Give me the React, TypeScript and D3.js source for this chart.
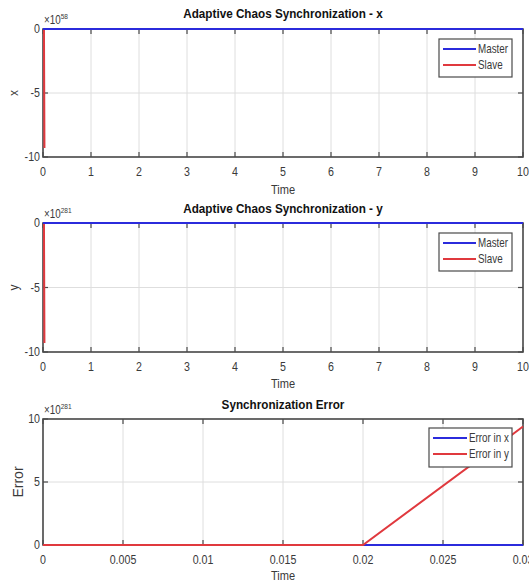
import * as d3 from "d3";

// panel 1 & 2: state trajectories (values in units of the axis exponent)
const masterTime = [0, 10];
const masterX = [0, 0];
const masterY = [0, 0];
const slaveTime = [0, 0.02, 0.03];
const slaveX = [0, 0, -9.3];
const slaveY = [0, 0, -9.3];

// panel 3: error
const errTime = [0, 0.02, 0.03];
const errX = [0, 0, 0];
const errY = [0, 0, 9.4];

const stateTicksX = [0, 1, 2, 3, 4, 5, 6, 7, 8, 9, 10];
const stateTicksY = [-10, -5, 0];
const errTicksX = [0, 0.005, 0.01, 0.015, 0.02, 0.025, 0.03];
const errTicksY = [0, 5, 10];

const FONT = "'Liberation Sans', Arial, sans-serif";
const BLUE = "#2b2bdc";
const RED = "#e0393e";
const AXIS = "#4a4a4a";
const GRID = "#dedede";
const TXT = "#3a3a3a";
const NARROW = 0.82;

type Series = { name: string; t: number[]; v: number[]; color: string };

// condensed text, like the narrow Helvetica in the original
function NText(props: { x: number; y: number; size: number; anchor?: string; children: any; fill?: string }) {
  return (
    <text
      transform={`translate(${props.x},${props.y}) scale(${NARROW},1)`}
      textAnchor={props.anchor || "start"}
      fontSize={props.size}
      fill={props.fill || TXT}
    >
      {props.children}
    </text>
  );
}

function Panel(props: {
  top: number;
  bottom: number;
  title: string;
  titleY: number;
  xDomain: [number, number];
  yDomain: [number, number];
  xTicks: number[];
  yTicks: number[];
  exponent: string;
  ylabel: string;
  ylabelSize: number;
  ylabelX: number;
  timeY: number;
  series: Series[];
  drawOrder: number[];
  legend: { x: number; y: number; w: number; h: number; lineLen: number };
}) {
  const left = 43;
  const right = 523;
  const x = d3.scaleLinear().domain(props.xDomain).range([left, right]);
  const y = d3.scaleLinear().domain(props.yDomain).range([props.bottom, props.top]);
  const line = (s: Series) =>
    d3
      .line<number>()
      .x((_, i) => x(s.t[i]))
      .y((d) => y(d))(s.v) || "";
  const fmt = (d: number) => String(d);
  const lg = props.legend;
  return (
    <g fontFamily={FONT}>
      {props.xTicks.map((t) => (
        <line key={"gx" + t} x1={x(t)} x2={x(t)} y1={props.top} y2={props.bottom} stroke={GRID} />
      ))}
      {props.yTicks.map((t) => (
        <line key={"gy" + t} x1={left} x2={right} y1={y(t)} y2={y(t)} stroke={GRID} />
      ))}
      <rect x={left} y={props.top} width={right - left} height={props.bottom - props.top} fill="none" stroke={AXIS} strokeWidth={1.6} />
      {props.xTicks.map((t) => (
        <g key={"tx" + t}>
          <line x1={x(t)} x2={x(t)} y1={props.bottom} y2={props.bottom - 5} stroke={AXIS} strokeWidth={1.2} />
          <line x1={x(t)} x2={x(t)} y1={props.top} y2={props.top + 5} stroke={AXIS} strokeWidth={1.2} />
          <NText x={x(t)} y={props.bottom + 19} size={13} anchor="middle">
            {fmt(t)}
          </NText>
        </g>
      ))}
      {props.yTicks.map((t) => (
        <g key={"ty" + t}>
          <line x1={left} x2={left + 5} y1={y(t)} y2={y(t)} stroke={AXIS} strokeWidth={1.2} />
          <line x1={right} x2={right - 5} y1={y(t)} y2={y(t)} stroke={AXIS} strokeWidth={1.2} />
          <NText x={left - 3} y={y(t) + 4} size={13} anchor="end">
            {fmt(t)}
          </NText>
        </g>
      ))}
      <text transform={`translate(${left + 1},${props.top - 5}) scale(${NARROW},1)`} fontSize={12} fill={TXT}>
        ×10
        <tspan fontSize={8} dy={-5}>
          {props.exponent}
        </tspan>
      </text>
      <text
        transform={`translate(283,${props.titleY}) scale(0.9,1)`}
        textAnchor="middle"
        fontSize={13}
        fontWeight="bold"
        fill="#111"
      >
        {props.title}
      </text>
      <NText x={283} y={props.timeY} size={13.5} anchor="middle">
        Time
      </NText>
      <text
        transform={`translate(${props.ylabelX},${(props.top + props.bottom) / 2}) rotate(-90)`}
        textAnchor="middle"
        fontSize={props.ylabelSize}
        fill={TXT}
      >
        {props.ylabel}
      </text>
      {props.drawOrder.map((k) => {
        const s = props.series[k];
        return <path key={s.name} d={line(s)} fill="none" stroke={s.color} strokeWidth={2} />;
      })}
      <rect x={lg.x} y={lg.y} width={lg.w} height={lg.h} fill="white" stroke={AXIS} strokeWidth={1.2} />
      {props.series.map((s, i) => {
        const ly = lg.y + 10 + i * 16;
        return (
          <g key={"lg" + s.name}>
            <line x1={lg.x + 4} x2={lg.x + 4 + lg.lineLen} y1={ly} y2={ly} stroke={s.color} strokeWidth={2} />
            <NText x={lg.x + 6 + lg.lineLen} y={ly + 4} size={12}>
              {s.name}
            </NText>
          </g>
        );
      })}
    </g>
  );
}

export default function App() {
  return (
    <svg width={529} height={582} style={{ position: "absolute", left: 0, top: 0, background: "white" }}>
      <Panel
        top={29}
        bottom={157}
        title="Adaptive Chaos Synchronization - x"
        titleY={18}
        xDomain={[0, 10]}
        yDomain={[-10, 0]}
        xTicks={stateTicksX}
        yTicks={stateTicksY}
        exponent="58"
        ylabel="x"
        ylabelSize={12}
        ylabelX={18}
        timeY={194}
        series={[
          { name: "Master", t: masterTime, v: masterX, color: BLUE },
          { name: "Slave", t: slaveTime, v: slaveX, color: RED },
        ]}
        drawOrder={[1, 0]}
        legend={{ x: 439, y: 39, w: 73, h: 38, lineLen: 33 }}
      />
      <Panel
        top={223}
        bottom={352}
        title="Adaptive Chaos Synchronization - y"
        titleY={213}
        xDomain={[0, 10]}
        yDomain={[-10, 0]}
        xTicks={stateTicksX}
        yTicks={stateTicksY}
        exponent="281"
        ylabel="y"
        ylabelSize={12}
        ylabelX={18}
        timeY={388}
        series={[
          { name: "Master", t: masterTime, v: masterY, color: BLUE },
          { name: "Slave", t: slaveTime, v: slaveY, color: RED },
        ]}
        drawOrder={[1, 0]}
        legend={{ x: 439, y: 233, w: 73, h: 38, lineLen: 33 }}
      />
      <Panel
        top={419}
        bottom={545}
        title="Synchronization Error"
        titleY={409}
        xDomain={[0, 0.03]}
        yDomain={[0, 10]}
        xTicks={errTicksX}
        yTicks={errTicksY}
        exponent="281"
        ylabel="Error"
        ylabelSize={14}
        ylabelX={23}
        timeY={580}
        series={[
          { name: "Error in x", t: errTime, v: errX, color: BLUE },
          { name: "Error in y", t: errTime, v: errY, color: RED },
        ]}
        drawOrder={[0, 1]}
        legend={{ x: 429, y: 428, w: 83, h: 39, lineLen: 34 }}
      />
    </svg>
  );
}
